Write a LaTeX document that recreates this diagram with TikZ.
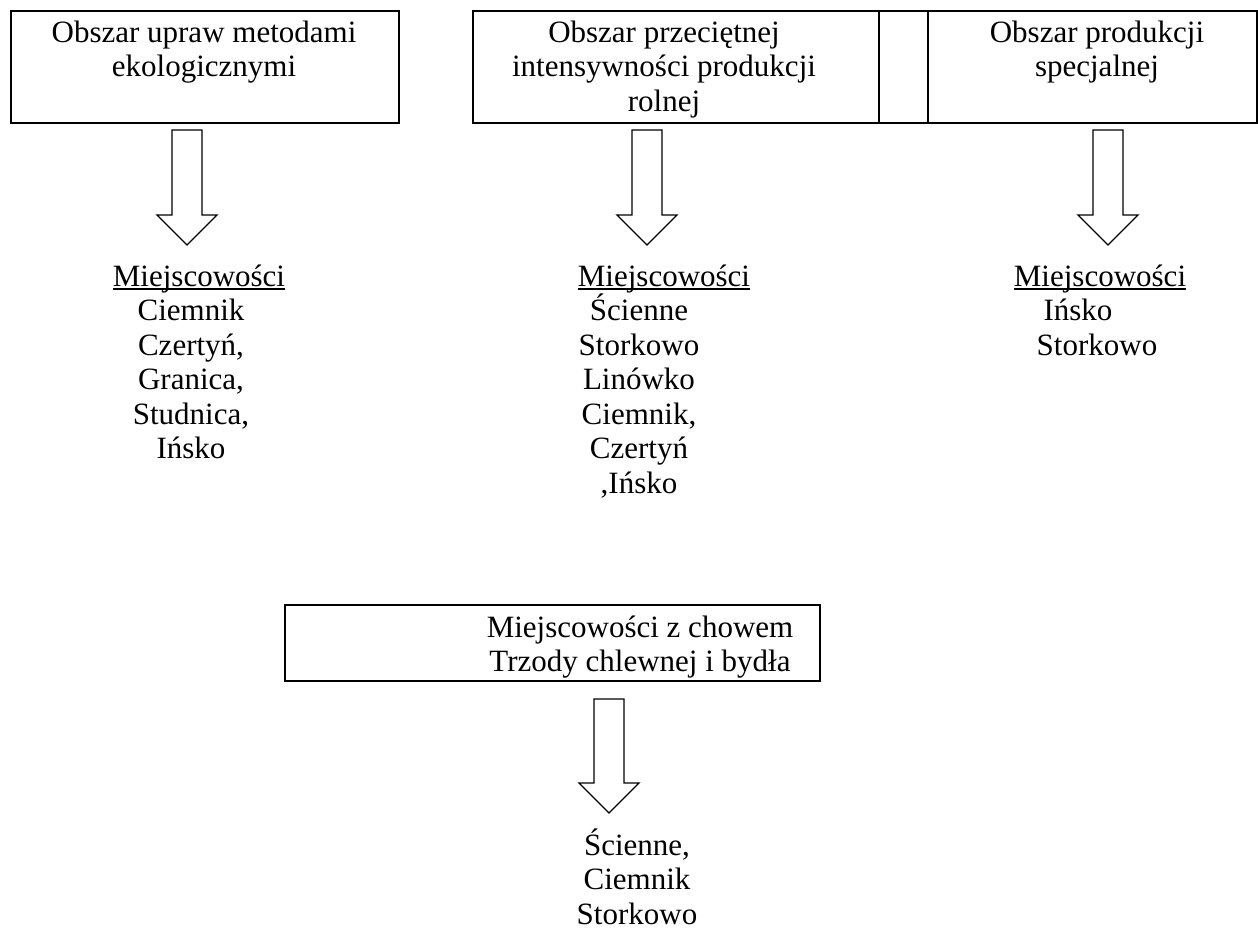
\documentclass[tikz,border=0pt]{standalone}
\usepackage{fontspec}
\setmainfont{Liberation Serif}
\usetikzlibrary{calc}
\newcommand{\topstrut}{\rule{0pt}{30pt}}
\newcommand{\myul}[1]{\setbox0\hbox{#1}\rlap{\rule[-3.5pt]{\wd0}{1.4pt}}\box0}
\newcommand{\hollowarrow}[2]{%
  \draw[blockarr] ($(#1)+(-15,0)$) -- ($(#2)+(-15,-30)$) -- ($(#2)+(-30,-30)$) -- (#2)
    -- ($(#2)+(30,-30)$) -- ($(#2)+(15,-30)$) -- ($(#1)+(15,0)$) -- cycle;}
\begin{document}
\begin{tikzpicture}[x=1pt,y=-1pt,
  box/.style={draw, line width=1.8pt, inner sep=0pt, anchor=north west},
  lbl/.style={font=\fontsize{31}{34.5}\selectfont, align=center, anchor=north, inner sep=0pt},
  blockarr/.style={draw, line width=1.3pt, line join=miter}]
\useasboundingbox (0,0) rectangle (1258,931);
% boxes
\node[box, minimum width=388pt, minimum height=112pt] (b1) at (10,10) {};
\node[box, minimum width=406pt, minimum height=112pt] (b2a) at (472,10) {};
\node[box, minimum width=49pt, minimum height=112pt] (b2b) at (878,10) {};
\node[box, minimum width=329pt, minimum height=112pt] (b2c) at (927,10) {};
\node[box, minimum width=535pt, minimum height=76pt] (b4) at (284,604) {};
% box texts
\node[lbl] (t1) at (204,12) {\topstrut Obszar upraw metodami\\ekologicznymi};
\node[lbl] (t2) at (664,12) {\topstrut Obszar przeciętnej\\intensywności produkcji\\rolnej};
\node[lbl] (t3) at (1097,12) {\topstrut Obszar produkcji\\specjalnej};
\node[lbl] (t4) at (640,607) {\topstrut Miejscowości z chowem\\ Trzody chlewnej i bydła};
% list headings
\node[lbl] (h1) at (199,256) {\topstrut\myul{Miejscowości}};
\node[lbl] (h2) at (664,256) {\topstrut\myul{Miejscowości}};
\node[lbl] (h3) at (1100,256) {\topstrut\myul{Miejscowości}};
% lists
\node[lbl] (l1) at (191,290.5) {\topstrut Ciemnik\\Czertyń,\\Granica,\\Studnica,\\Ińsko};
\node[lbl] (l2) at (639,290.5) {\topstrut Ścienne\\Storkowo\\Linówko\\Ciemnik,\\Czertyń\\,Ińsko};
\node[lbl] (l3) at (1097,290.5) {\topstrut Ińsko\hspace*{38pt}\\Storkowo};
\node[lbl] (l4) at (637,825) {\topstrut Ścienne,\\Ciemnik\\Storkowo};
% arrows
\coordinate (a1s) at (187,130); \coordinate (a1e) at (187,245);
\coordinate (a2s) at (647,130); \coordinate (a2e) at (647,245);
\coordinate (a3s) at (1108,130); \coordinate (a3e) at (1108,245);
\coordinate (a4s) at (609,699); \coordinate (a4e) at (609,813);
\hollowarrow{a1s}{a1e}
\hollowarrow{a2s}{a2e}
\hollowarrow{a3s}{a3e}
\hollowarrow{a4s}{a4e}
\end{tikzpicture}
\end{document}
